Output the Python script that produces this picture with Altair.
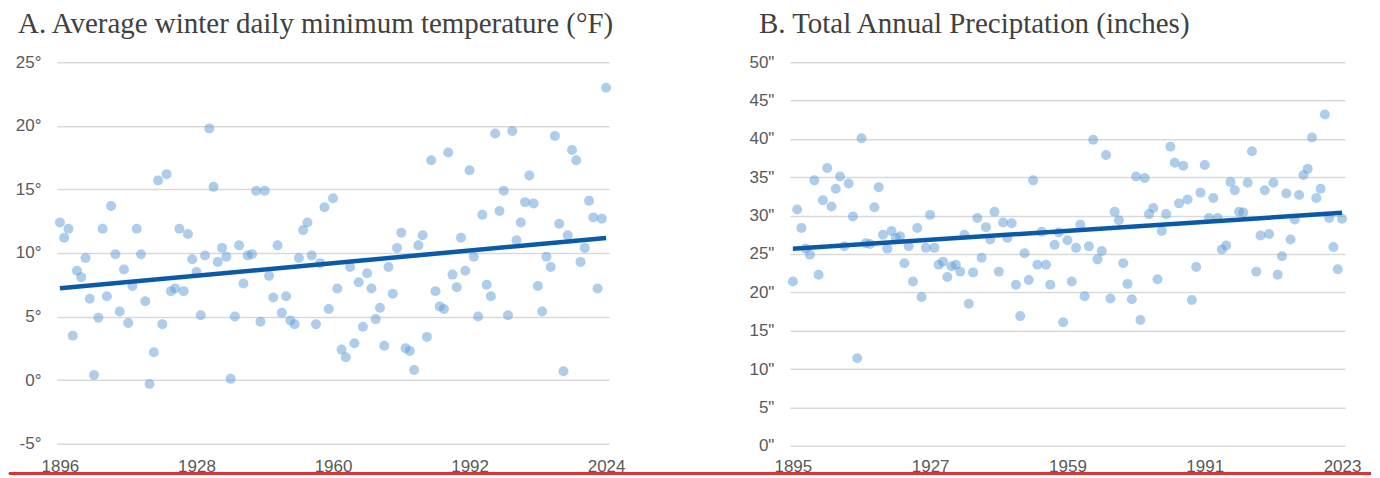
import altair as alt
import pandas as pd

# ---- Panel A: average winter daily minimum temperature (°F) ----
temp_years = list(range(1896, 2025))
temp_values = [
    12.4, 11.2, 11.9, 3.5, 8.6, 8.1, 9.6, 6.4, 0.4, 4.9,
    11.9, 6.6, 13.7, 9.9, 5.4, 8.7, 4.5, 7.4, 11.9, 9.9,
    6.2, -0.3, 2.2, 15.7, 4.4, 16.2, 7.0, 7.2, 11.9, 7.0,
    11.5, 9.5, 8.5, 5.1, 9.8, 19.8, 15.2, 9.3, 10.4, 9.7,
    0.1, 5.0, 10.6, 7.6, 9.8, 9.9, 14.9, 4.6, 14.9, 8.2,
    6.5, 10.6, 5.3, 6.6, 4.7, 4.4, 9.6, 11.8, 12.4, 9.8,
    4.4, 9.2, 13.6, 5.6, 14.3, 7.2, 2.4, 1.8, 8.9, 2.9,
    7.7, 4.2, 8.4, 7.2, 4.8, 5.7, 2.7, 8.9, 6.8, 10.4,
    11.6, 2.5, 2.3, 0.8, 10.6, 11.4, 3.4, 17.3, 7.0, 5.8,
    5.6, 17.9, 8.3, 7.3, 11.2, 8.6, 16.5, 9.7, 5.0, 13.0,
    7.5, 6.6, 19.4, 13.3, 14.9, 5.1, 19.6, 11.0, 12.4, 14.0,
    16.1, 13.9, 7.4, 5.4, 9.7, 8.9, 19.2, 12.3, 0.7, 11.4,
    18.1, 17.3, 9.3, 10.4, 14.1, 12.8, 7.2, 12.7, 23.0,
]
temp_x_ticks = [1896, 1928, 1960, 1992, 2024]
temp_y_ticks = [-5, 0, 5, 10, 15, 20, 25]

# ---- Panel B: total annual precipitation (inches) ----
precip_years = list(range(1895, 2024))
precip_values = [
    21.4, 30.8, 28.4, 25.7, 24.9, 34.6, 22.3, 32.0, 36.2, 31.2,
    33.5, 35.1, 26.0, 34.2, 29.9, 11.4, 40.1, 26.4, 26.3, 31.1,
    33.7, 27.5, 25.7, 28.0, 27.1, 27.3, 23.8, 26.0, 21.4, 28.4,
    19.4, 25.8, 30.1, 25.8, 23.6, 24.0, 22.0, 23.4, 23.6, 22.7,
    27.5, 18.5, 22.6, 29.7, 24.5, 28.5, 26.9, 30.5, 22.7, 29.1,
    27.1, 29.0, 21.0, 16.9, 25.1, 21.6, 34.6, 23.6, 27.9, 23.6,
    21.0, 26.2, 27.8, 16.1, 26.8, 21.4, 25.8, 28.8, 19.5, 26.0,
    39.9, 24.3, 25.4, 37.9, 19.2, 30.5, 29.4, 23.8, 21.1, 19.1,
    35.1, 16.4, 34.9, 30.2, 31.0, 21.7, 28.0, 30.2, 39.0, 36.9,
    31.6, 36.5, 32.1, 19.0, 23.3, 33.0, 36.6, 29.7, 32.3, 29.7,
    25.6, 26.1, 34.4, 33.3, 30.5, 30.4, 34.3, 38.4, 22.7, 27.4,
    33.3, 27.6, 34.3, 22.3, 24.7, 32.9, 26.9, 29.5, 32.7, 35.3,
    36.1, 40.2, 32.3, 33.5, 43.2, 29.7, 25.9, 23.0, 29.6,
]
precip_x_ticks = [1895, 1927, 1959, 1991, 2023]
precip_y_ticks = [0, 5, 10, 15, 20, 25, 30, 35, 40, 45, 50]

POINT = "#5b9bd5"
TREND = "#0b5aa8"
GRID = "#d9d9d9"
LABEL = "#595959"
TITLE = "#404040"
AXIS_FONT = "Liberation Sans"
TITLE_FONT = "Liberation Serif"


def panel(years, values, xticks, yticks, suffix, title, title_dx, width, height,
          xlabel_pad, rule=False):
    df = pd.DataFrame({"year": years, "value": values})
    x = alt.X(
        "year:Q",
        scale=alt.Scale(domain=[xticks[0], xticks[-1]], padding=3, nice=False, zero=False),
        axis=alt.Axis(values=xticks, tickCount=len(xticks) + 5, format="d", grid=False,
                      domain=False, ticks=False, labelPadding=xlabel_pad, labelFontSize=17,
                      labelColor=LABEL, labelFont=AXIS_FONT, labelFlush=False,
                      labelOverlap=False, title=None),
    )
    y = alt.Y(
        "value:Q",
        scale=alt.Scale(domain=[yticks[0], yticks[-1]], nice=False, zero=False),
        axis=alt.Axis(values=yticks, tickCount=len(yticks) + 5,
                      labelExpr=f"datum.value + '{suffix}'", grid=True,
                      gridColor=GRID, gridWidth=1.5, domain=False, ticks=False,
                      labelPadding=16, labelFontSize=17, labelColor=LABEL, labelFont=AXIS_FONT,
                      labelOverlap=False, labelFlush=False, title=None),
    )
    base = alt.Chart(df)
    pts = base.mark_circle(size=100, color=POINT, opacity=0.5).encode(x=x, y=y)
    trend = base.transform_regression("year", "value").mark_line(
        color=TREND, strokeWidth=4.5).encode(x="year:Q", y="value:Q")
    layers = [pts, trend]
    if rule:
        red = base.mark_rule(color="#d8343c", strokeWidth=2).encode(
            x=alt.value(-48), x2=alt.value(1316), y=alt.value(height + 30))
        layers.append(red)
    return alt.layer(*layers).properties(
        width=width, height=height,
        title=alt.TitleParams(title, anchor="start", frame="group", dx=title_dx, offset=14,
                              fontSize=29, font=TITLE_FONT, fontWeight="normal",
                              color=TITLE),
    )


left = panel(temp_years, temp_values, temp_x_ticks, temp_y_ticks, "°",
             "A. Average winter daily minimum temperature (°F)", -39,
             553, 382, 15, rule=True)
right = panel(precip_years, precip_values, precip_x_ticks, precip_y_ticks, '"',
              "B. Total Annual Preciptation (inches)", -31,
              556, 384, 13)

chart = alt.hconcat(left, right, spacing=181, bounds="flush").properties(
    padding={"left": 0, "top": 2, "right": 0, "bottom": 0}, background="white"
).configure_view(stroke=None)

chart.save("out.html", embed_options={"renderer": "svg", "actions": False})
